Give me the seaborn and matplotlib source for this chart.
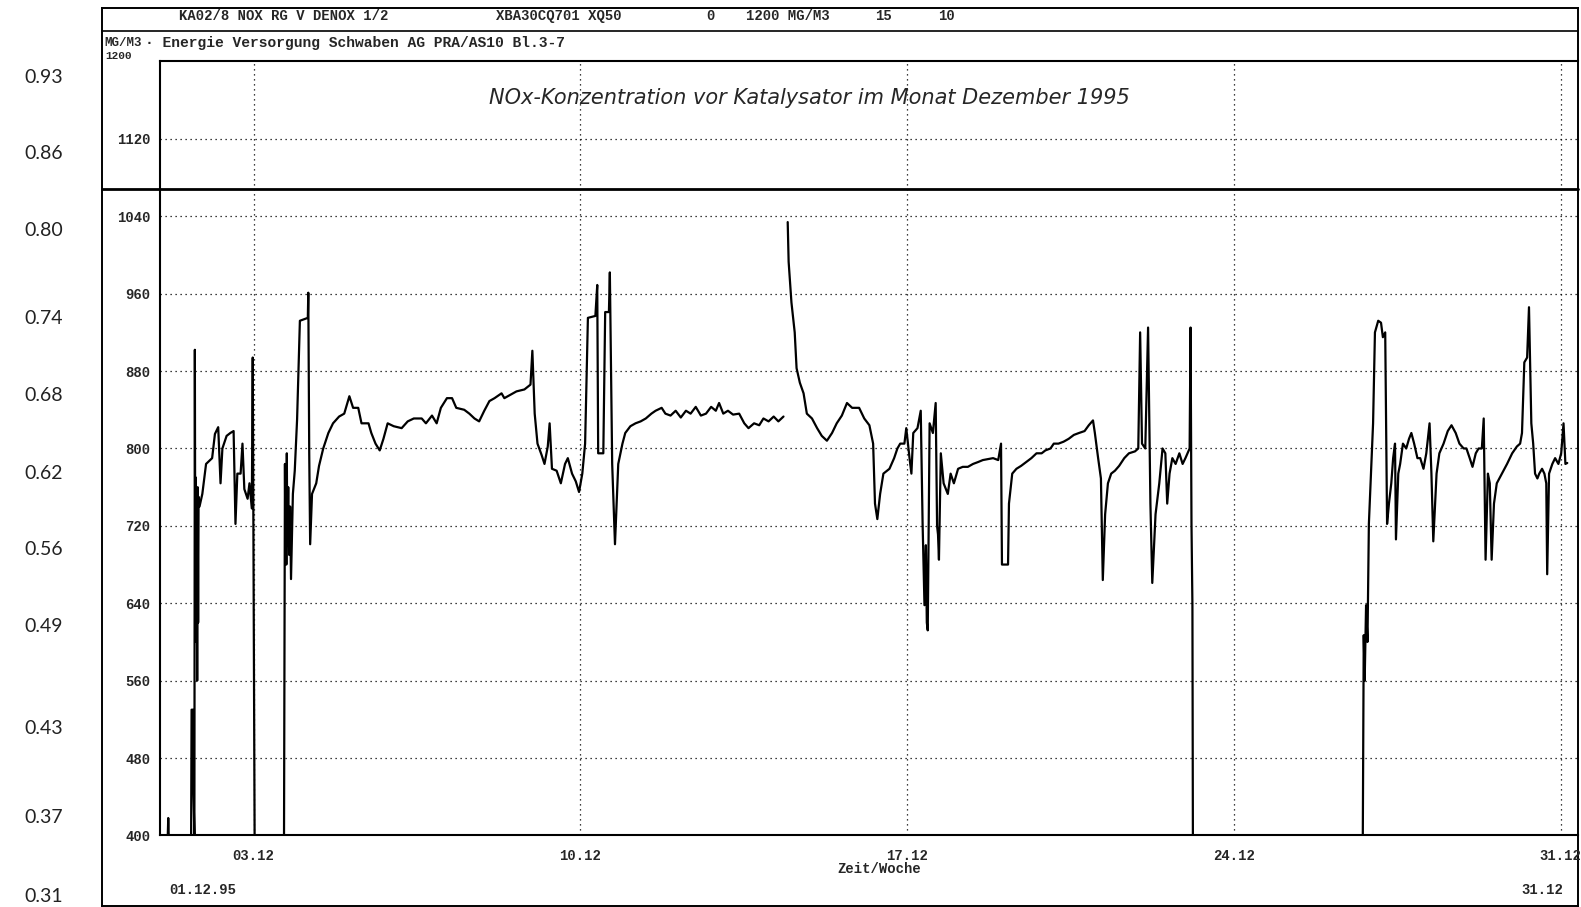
import numpy as np
import pandas as pd
import matplotlib
matplotlib.use("Agg")
import matplotlib.pyplot as plt
import seaborn as sns
from matplotlib.lines import Line2D

# ---------------- data ----------------
day_part1 = [1.01, 1.16, 1.17, 1.18, 1.66, 1.67, 1.70, 1.71, 1.73, 1.74, 1.75, 1.76, 1.77, 1.78,
             1.79, 1.80, 1.81, 1.82, 1.84, 1.90, 1.98, 2.11, 2.17, 2.24, 2.29, 2.33, 2.42, 2.50,
             2.57, 2.61, 2.65, 2.72, 2.76, 2.80, 2.87, 2.91, 2.96, 2.98, 3.00, 3.02, 3.65, 3.67,
             3.68, 3.69, 3.70, 3.71, 3.72, 3.74, 3.76, 3.78, 3.80, 3.84, 3.88, 3.93, 3.99, 4.16,
             4.17, 4.19, 4.21, 4.25, 4.34, 4.40, 4.49, 4.60, 4.70, 4.83, 4.94, 5.05, 5.13, 5.24,
             5.31, 5.46, 5.52, 5.61, 5.70, 5.78, 5.87, 6.00, 6.17, 6.30, 6.43, 6.60, 6.69, 6.82,
             6.92, 7.01, 7.14, 7.25, 7.34, 7.51, 7.62, 7.73, 7.83, 7.94, 8.05, 8.16, 8.31, 8.37,
             8.48, 8.63, 8.80, 8.93, 8.97, 9.02, 9.08, 9.17, 9.23, 9.30, 9.34, 9.39, 9.49, 9.58,
             9.67, 9.73, 9.82, 9.90, 9.97, 10.04, 10.10, 10.16, 10.32, 10.36, 10.38, 10.49, 10.53,
             10.61, 10.63, 10.68, 10.74, 10.81, 10.90, 10.96, 11.07, 11.18, 11.29, 11.40, 11.52,
             11.61, 11.74, 11.82, 11.93, 12.04, 12.15, 12.26, 12.36, 12.47, 12.58, 12.69, 12.80,
             12.90, 12.97, 13.06, 13.16, 13.27, 13.40, 13.51, 13.60, 13.72, 13.83, 13.92, 14.03,
             14.14, 14.24, 14.35]
nox_part1 = [400, 400, 418, 400, 400, 530, 530, 445, 400, 902, 640, 770, 600, 740,
             560, 760, 620, 750, 740, 753, 784, 790, 815, 822, 764, 800, 813, 816,
             818, 722, 774, 774, 805, 758, 748, 764, 738, 894, 644, 400, 400, 784,
             690, 770, 680, 795, 700, 760, 690, 740, 665, 753, 777, 830, 932, 935,
             961, 795, 701, 753, 764, 782, 800, 816, 826, 833, 836, 854, 842, 842,
             826, 826, 816, 805, 798, 810, 826, 823, 821, 828, 831, 831, 826, 834,
             826, 842, 852, 852, 842, 840, 836, 831, 828, 839, 849, 852, 857, 852,
             855, 859, 861, 866, 901, 836, 805, 793, 784, 802, 826, 779, 777, 764,
             784, 790, 774, 766, 755, 774, 805, 935, 937, 969, 795, 795, 941,
             941, 982, 784, 701, 784, 805, 816, 823, 826, 828, 831, 836,
             839, 842, 836, 834, 839, 832, 839, 836, 843, 834, 836, 843,
             839, 847, 836, 839, 835, 836, 826, 821, 826, 824, 831, 828,
             833, 828, 833]

day_part2 = [14.44, 14.46, 14.52, 14.59, 14.63, 14.70, 14.78, 14.85, 14.96, 15.07, 15.17, 15.28,
             15.39, 15.49, 15.60, 15.71, 15.82, 15.97, 16.08, 16.19, 16.27, 16.31, 16.36, 16.42,
             16.49, 16.62, 16.72, 16.79, 16.85, 16.94, 16.98, 17.05, 17.09, 17.13, 17.22, 17.29,
             17.33, 17.37, 17.40, 17.42, 17.44, 17.48, 17.55, 17.61, 17.64, 17.66, 17.68, 17.72,
             17.78, 17.87, 17.93, 18.00, 18.09, 18.19, 18.30, 18.41, 18.52, 18.62, 18.73, 18.84,
             18.95, 19.01, 19.03, 19.16, 19.18, 19.25, 19.34, 19.44, 19.55, 19.66, 19.77, 19.88,
             19.96, 20.07, 20.14, 20.24, 20.35, 20.46, 20.57, 20.68, 20.80, 20.89, 20.98, 21.02,
             21.09, 21.15, 21.19, 21.24, 21.30, 21.37, 21.45, 21.54, 21.65, 21.75, 21.88, 21.95,
             21.99, 22.03, 22.10, 22.16, 22.21, 22.25, 22.32, 22.40, 22.47, 22.53, 22.57, 22.62,
             22.68, 22.75, 22.83, 22.90, 22.96, 23.05, 23.07, 23.09, 23.11, 23.12, 26.76, 26.78,
             26.80, 26.83, 26.86, 26.89, 26.98, 27.02, 27.09, 27.15, 27.19, 27.24, 27.26, 27.28,
             27.32, 27.37, 27.41, 27.45, 27.47, 27.52, 27.56, 27.62, 27.69, 27.75, 27.80, 27.86,
             27.93, 27.99, 28.06, 28.12, 28.19, 28.23, 28.27, 28.34, 28.40, 28.49, 28.58, 28.66,
             28.75, 28.83, 28.92, 28.98, 29.05, 29.11, 29.18, 29.24, 29.31, 29.35, 29.39, 29.44,
             29.48, 29.52, 29.57, 29.63, 29.74, 29.85, 29.96, 30.06, 30.13, 30.17, 30.22, 30.28,
             30.32, 30.37, 30.41, 30.45, 30.50, 30.54, 30.60, 30.65, 30.69, 30.71, 30.75, 30.82,
             30.88, 30.95, 31.01, 31.06, 31.10, 31.14]
nox_part2 = [1034, 993, 951, 920, 883, 868, 857, 836, 831, 821, 813, 808,
             816, 826, 834, 847, 842, 842, 831, 824, 805, 743, 727, 753,
             774, 779, 790, 800, 805, 805, 821, 790, 774, 816, 821, 839,
             722, 638, 700, 620, 612, 826, 816, 847, 720, 711, 685, 795,
             764, 753, 774, 764, 779, 781, 781, 784, 786, 788, 789, 790,
             788, 805, 680, 680, 743, 774, 779, 782, 786, 790, 795, 795,
             798, 800, 805, 805, 807, 810, 814, 816, 818, 824, 829, 816,
             790, 769, 664, 732, 764, 774, 777, 782, 790, 795, 797, 800,
             920, 805, 800, 925, 743, 661, 732, 764, 800, 795, 743, 774,
             790, 784, 795, 784, 790, 800, 925, 722, 638, 400, 400, 607,
             560, 638, 600, 722, 826, 920, 932, 930, 915, 920, 816, 722,
             743, 764, 790, 805, 706, 774, 784, 805, 800, 810, 816, 805,
             790, 790, 779, 795, 826, 774, 704, 774, 795, 805, 818, 824,
             816, 805, 800, 800, 790, 781, 795, 800, 800, 831, 685, 774,
             764, 685, 743, 764, 774, 784, 795, 802, 805, 816, 889, 894,
             946, 826, 805, 774, 769, 774, 779, 774, 764, 670, 774, 784,
             790, 784, 795, 826, 784, 785]

grid_levels = [400, 480, 560, 640, 720, 800, 880, 960, 1040, 1120]
week_days = [3, 10, 17, 24, 31]
week_labels = ["03.12", "10.12", "17.12", "24.12", "31.12"]
all_days = list(range(1, 32))
outer_labels = ["0.93", "0.86", "0.80", "0.74", "0.68", "0.62", "0.56", "0.49", "0.43", "0.37", "0.31"]
outer_pos = [0.9248, 0.8395, 0.7542, 0.6554, 0.5701, 0.4837, 0.3984, 0.3131, 0.1987, 0.0999, 0.0123]

title = "NOx-Konzentration vor Katalysator im Monat Dezember 1995"
header1 = ["KA02/8 NOX RG V DENOX 1/2", "XBA30CQ701 XQ50", "0", "1200 MG/M3", "15", "10"]
header1_x = [0.1135, 0.3138, 0.4464, 0.4719, 0.5536, 0.5931]

df = pd.concat([
    pd.DataFrame({"day": day_part1, "nox": nox_part1, "seg": 0}),
    pd.DataFrame({"day": day_part2, "nox": nox_part2, "seg": 1}),
], ignore_index=True)

# ---------------- figure ----------------
sns.set_theme(style="white")
plt.rcParams["font.family"] = ["DejaVu Sans"]
mono = "Liberation Mono"

fig = plt.figure(figsize=(15.81, 9.07), dpi=100)

# outer frame with side labels
frame = fig.add_axes([0.0644, 0.0015, 0.9334, 0.9895])
frame.set_xlim(0, 1)
frame.set_ylim(0, 1)
frame.set_xticks([])
frame.set_yticks(outer_pos)
frame.set_yticklabels(outer_labels, fontsize=14, family="Lato", color="#222222")
frame.tick_params(axis="y", length=0, pad=28)
for s in frame.spines.values():
    s.set_color("black")
    s.set_linewidth(1.4)
    s.set_visible(True)

# main plotting axes
ax = fig.add_axes([0.1014, 0.0789, 0.8970, 0.8533])
ax.patch.set_alpha(0)
sns.lineplot(data=df, x="day", y="nox", units="seg", estimator=None, sort=False,
             color="black", linewidth=1.6, ax=ax, legend=False)
ax.set_xlim(1, 31.38)
ax.set_ylim(400, 1200)
ax.set_xlabel("")
ax.set_ylabel("")

ax.set_yticks(grid_levels)
ax.set_yticklabels([str(v) for v in grid_levels], family=mono, fontsize=10, fontweight="bold")
ax.set_xticks(week_days)
ax.set_xticklabels(week_labels, family=mono, fontsize=10, fontweight="bold")
ax.set_xticks(all_days, minor=True)
ax.tick_params(axis="x", which="both", direction="out", length=5, width=1.2, color="black", pad=5)
ax.tick_params(axis="y", which="both", direction="out", length=2, width=1.2, color="black", pad=5)
ax.grid(True, which="major", color="black", linestyle=(0, (1, 3)), linewidth=0.9)
for side in ["left", "bottom", "top"]:
    ax.spines[side].set_visible(True)
    ax.spines[side].set_color("black")
    ax.spines[side].set_linewidth(1.5)
ax.spines["right"].set_visible(False)

ax.text(0.4577, 0.953, title, transform=ax.transAxes, ha="center", va="center",
        fontsize=15, style="italic", family="DejaVu Sans")
ax.text(0.507, -0.044, "Zeit/Woche", transform=ax.transAxes, ha="center", va="center",
        family=mono, fontsize=10, fontweight="bold")
ax.text(0.006, -0.070, "01.12.95", transform=ax.transAxes, ha="left", va="center",
        family=mono, fontsize=10, fontweight="bold")
ax.text(0.989, -0.070, "31.12", transform=ax.transAxes, ha="right", va="center",
        family=mono, fontsize=10, fontweight="bold")

# header texts
for txt, xx in zip(header1, header1_x):
    fig.text(xx, 0.982, txt, ha="left", va="center", family=mono, fontsize=10, fontweight="bold")
fig.text(0.0663, 0.953, "MG/M3", ha="left", va="center", family=mono, fontsize=9, fontweight="bold")
fig.text(0.0918, 0.953, "\u00b7 Energie Versorgung Schwaben AG PRA/AS10 Bl.3-7", ha="left", va="center",
         family=mono, fontsize=10.5, fontweight="bold")
fig.text(0.0663, 0.938, "1200", ha="left", va="center", family=mono, fontsize=8, fontweight="bold")

# header separator and panel separator
fig.add_artist(Line2D([0.0644, 0.9978], [0.9656, 0.9656], transform=fig.transFigure,
                      color="black", linewidth=1.2))
fig.add_artist(Line2D([0.0644, 0.9978], [0.7911, 0.7911], transform=fig.transFigure,
                      color="black", linewidth=2.0))

fig.savefig("out.png", dpi=100, facecolor="white")
